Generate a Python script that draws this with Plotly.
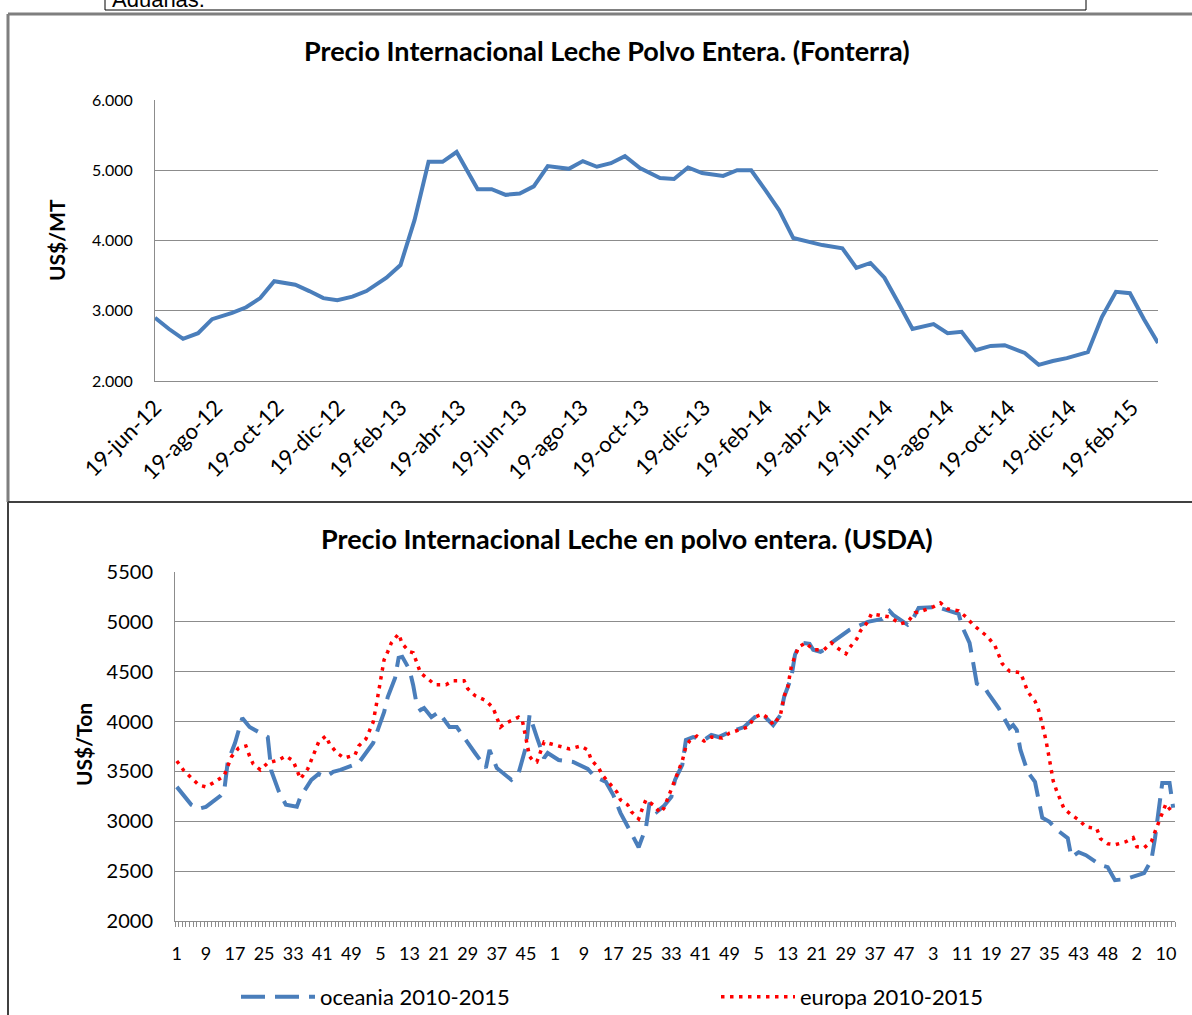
import plotly.graph_objects as go

W, H = 1192, 1015

# ---------------- Top chart data (Fonterra) ----------------
fonterra_dates = ["2012-06-19","2012-07-03","2012-07-17","2012-08-01","2012-08-15","2012-09-04","2012-09-18",
    "2012-10-02","2012-10-16","2012-11-06","2012-11-20","2012-12-04","2012-12-18",
    "2013-01-02","2013-01-16","2013-02-05","2013-02-19","2013-03-05","2013-03-19","2013-04-02","2013-04-16",
    "2013-05-07","2013-05-21","2013-06-04","2013-06-18","2013-07-02","2013-07-16","2013-08-06","2013-08-20",
    "2013-09-03","2013-09-17","2013-10-01","2013-10-16","2013-11-05","2013-11-19","2013-12-03","2013-12-17",
    "2014-01-07","2014-01-21","2014-02-04","2014-02-18","2014-03-04","2014-03-18","2014-04-01","2014-04-16",
    "2014-05-06","2014-05-20","2014-06-03","2014-06-17","2014-07-01","2014-07-15","2014-08-05","2014-08-19",
    "2014-09-02","2014-09-16","2014-10-01","2014-10-15","2014-11-04","2014-11-18","2014-12-02","2014-12-16",
    "2015-01-06","2015-01-20","2015-02-03","2015-02-17","2015-03-03","2015-03-17"]
fonterra_values = [2900,2740,2600,2680,2880,2970,3050,3180,3420,3370,3280,3180,3150,3200,3280,3470,3650,4290,
    5120,5120,5260,4730,4730,4650,4670,4770,5060,5020,5130,5050,5100,5200,5030,4890,4875,5040,4960,4920,5000,
    5000,4720,4430,4035,3980,3935,3890,3610,3680,3470,3110,2740,2810,2680,2700,2440,2500,2510,2400,2230,2285,
    2325,2410,2910,3270,3250,2880,2540]
top_tick_dates = ["2012-06-19","2012-08-19","2012-10-19","2012-12-19","2013-02-19","2013-04-19","2013-06-19",
    "2013-08-19","2013-10-19","2013-12-19","2014-02-19","2014-04-19","2014-06-19","2014-08-19","2014-10-19",
    "2014-12-19","2015-02-19"]
top_tick_labels = ["19-jun-12","19-ago-12","19-oct-12","19-dic-12","19-feb-13","19-abr-13","19-jun-13",
    "19-ago-13","19-oct-13","19-dic-13","19-feb-14","19-abr-14","19-jun-14","19-ago-14","19-oct-14",
    "19-dic-14","19-feb-15"]

# ---------------- Bottom chart data (USDA) ----------------
week_labels = ["1","9","17","25","33","41","49","5","13","21","29","37","45","1","9","17","25","33","41","49",
    "5","13","21","29","37","47","3","11","19","27","35","43","48","2","10"]
week_label_pos = list(range(0, 8 * len(week_labels), 8))
n_weeks = 275

oceania_idx = [0,4,6,8,12,13,14,16,18,20,25,26,28,30,33,34,37,39,41,43,45,50,54,55,57,58,60,61,62,64,
    65,66,67,68,70,72,75,77,79,82,85,86,88,92,94,96,97,98,99,101,102,105,109,113,115,118,120,122,127,129,
    130,132,134,136,137,139,140,142,145,147,149,152,156,159,161,164,166,167,169,170,171,172,174,175,177,178,
    180,185,190,194,196,197,201,202,204,209,213,215,216,218,219,220,222,223,226,229,230,231,232,234,236,237,
    238,240,242,245,246,248,250,254,256,258,261,266,268,269,270,271,273,274]
oceania_val = [3345,3165,3125,3145,3255,3295,3595,3785,4035,3945,3845,3505,3305,3165,3145,3245,3415,3475,
    3445,3495,3515,3585,3785,3895,4095,4245,4435,4640,4650,4520,4365,4165,4115,4135,4045,4095,3945,3945,3835,
    3685,3535,3715,3535,3415,3485,3745,4065,3945,3845,3635,3685,3615,3595,3525,3445,3395,3265,3085,2740,2935,
    3185,3095,3155,3245,3415,3565,3815,3845,3815,3865,3845,3895,3945,4045,4075,3965,4065,4245,4445,4670,4750,
    4790,4780,4720,4700,4720,4790,4920,5000,5030,5110,5070,4970,5000,5140,5150,5110,5080,4950,4790,4590,4380,
    4350,4290,4135,3935,3965,3915,3715,3495,3395,3195,3035,2995,2915,2830,2640,2690,2660,2560,2540,2410,2420,
    2480,2610,2830,3145,3385,3385,3135]

europa_idx = [0,2,4,6,8,10,13,14,15,17,19,20,21,23,25,28,30,32,33,34,36,37,38,39,41,42,44,46,49,50,52,53,
    54,55,56,57,58,59,61,62,64,65,66,67,69,71,74,76,79,80,82,85,87,88,89,90,92,94,95,96,97,98,99,100,101,103,
    106,108,111,113,114,116,117,119,121,122,124,125,127,128,129,131,133,134,135,136,137,138,139,140,141,143,
    145,147,150,152,155,157,159,161,163,164,166,167,168,169,170,171,173,175,178,180,182,184,185,187,188,190,
    191,194,196,199,201,203,205,208,210,212,215,217,219,221,223,225,226,227,229,232,233,234,236,237,238,239,
    240,241,242,243,244,246,248,250,253,254,256,258,261,263,264,266,268,269,270,271,272,274]
europa_val = [3605,3505,3435,3365,3345,3385,3455,3545,3645,3735,3755,3655,3575,3515,3585,3615,3655,3605,3505,
    3425,3525,3615,3705,3795,3855,3775,3685,3635,3665,3755,3825,3905,3995,4195,4415,4620,4700,4790,4880,4780,
    4700,4690,4590,4490,4430,4370,4370,4410,4410,4330,4260,4210,4135,4045,3945,3975,4015,4045,4015,3850,3650,
    3605,3595,3695,3795,3775,3745,3725,3755,3715,3615,3535,3465,3385,3295,3215,3165,3095,3025,3125,3215,3165,
    3085,3135,3225,3325,3415,3505,3605,3750,3805,3855,3805,3845,3835,3885,3925,3945,4045,4075,4025,3965,4065,
    4255,4345,4555,4655,4750,4790,4720,4720,4790,4730,4680,4740,4830,4910,5000,5080,5060,5050,4980,5000,5090,
    5110,5150,5190,5130,5110,5050,4970,4910,4850,4760,4670,4580,4505,4490,4400,4300,4205,4115,3970,3815,3615,
    3405,3300,3205,3125,3065,3015,2945,2925,2825,2775,2765,2795,2835,2745,2735,2795,2895,2995,3085,3175,3075]

FONT = "Lato"
BLUE = "#4A7EBB"
GRID = "#8C8C8C"

def px_x(p):
    return p / W

def px_y(p):
    return 1 - p / H

fig = go.Figure()

fig.add_trace(go.Scatter(x=fonterra_dates, y=fonterra_values, mode="lines",
                         line=dict(color=BLUE, width=4), showlegend=False,
                         xaxis="x", yaxis="y"))
fig.add_trace(go.Scatter(x=oceania_idx, y=oceania_val, mode="lines", name="oceania 2010-2015",
                         line=dict(color=BLUE, width=4, dash="24px,10px"),
                         xaxis="x2", yaxis="y2"))
fig.add_trace(go.Scatter(x=europa_idx, y=europa_val, mode="lines", name="europa 2010-2015",
                         line=dict(color="#FF0000", width=3.5, dash="3.5px,5.5px"),
                         xaxis="x2", yaxis="y2"))

fig.update_layout(
    width=W, height=H,
    margin=dict(l=0, r=0, t=0, b=0, autoexpand=False),
    paper_bgcolor="white", plot_bgcolor="white",
    separators=",.",
    font=dict(family=FONT, size=16, color="black"),
    xaxis=dict(domain=[px_x(155), px_x(1158)], anchor="y", type="date", automargin=False,
               range=["2012-06-19", "2015-03-17"],
               tickmode="array", tickvals=top_tick_dates, ticktext=top_tick_labels,
               tickangle=-45, showgrid=False, showline=True, linecolor=GRID, linewidth=1,
               ticks="", tickfont=dict(family=FONT, size=22), ticklabelstandoff=4,
               zeroline=False),
    yaxis=dict(domain=[px_y(381), px_y(100)], anchor="x", range=[2000, 6000], automargin=False,
               tickmode="linear", tick0=2000, dtick=1000, tickformat=",.0f",
               showgrid=True, gridcolor=GRID, gridwidth=1, showline=True, linecolor=GRID,
               ticks="", tickfont=dict(family=FONT, size=16), ticklabelstandoff=18,
               zeroline=False),
    xaxis2=dict(domain=[px_x(175), px_x(1175)], anchor="y2", type="linear", automargin=False,
                range=[-0.5, n_weeks - 0.5],
                tickmode="array", tickvals=week_label_pos, ticktext=week_labels,
                showgrid=False, showline=True, linecolor=GRID, linewidth=1,
                ticks="", tickfont=dict(family=FONT, size=18), ticklabelstandoff=16,
                minor=dict(tickmode="linear", tick0=-0.5, dtick=1, ticks="outside",
                           ticklen=5, tickcolor=GRID, showgrid=False),
                zeroline=False),
    yaxis2=dict(domain=[px_y(921), px_y(572)], anchor="x2", range=[2000, 5500], automargin=False,
                tickmode="linear", tick0=2000, dtick=500, tickformat="d",
                showgrid=True, gridcolor=GRID, gridwidth=1, showline=True, linecolor=GRID,
                ticks="", tickfont=dict(family=FONT, size=20), ticklabelstandoff=17,
                zeroline=False),
    legend=dict(orientation="h", x=px_x(236), y=px_y(997), xanchor="left", yanchor="middle",
                font=dict(family=FONT, size=22), entrywidth=391, entrywidthmode="pixels",
                itemwidth=74, bgcolor="rgba(0,0,0,0)", traceorder="normal"),
)

annotations = [
    dict(text="<b>Precio Internacional Leche Polvo Entera. (Fonterra)</b>", x=px_x(607), y=px_y(50),
         xref="paper", yref="paper", showarrow=False, font=dict(family=FONT, size=27),
         xanchor="center", yanchor="middle"),
    dict(text="<b>Precio Internacional Leche en polvo entera. (USDA)</b>", x=px_x(627), y=px_y(538),
         xref="paper", yref="paper", showarrow=False, font=dict(family=FONT, size=27),
         xanchor="center", yanchor="middle"),
    dict(text="<b>US$/MT</b>", x=px_x(57), y=px_y(240), xref="paper", yref="paper", showarrow=False,
         textangle=-90, font=dict(family=FONT, size=21), xanchor="center", yanchor="middle"),
    dict(text="<b>US$/Ton</b>", x=px_x(83), y=px_y(745), xref="paper", yref="paper", showarrow=False,
         textangle=-90, font=dict(family=FONT, size=21), xanchor="center", yanchor="middle"),
    dict(text="Aduanas.", x=px_x(110), y=px_y(14), xref="paper", yref="paper", showarrow=False,
         font=dict(family="Liberation Sans", size=22), xanchor="left", yanchor="bottom"),
]
fig.update_layout(annotations=annotations)

def seg(x0, y0, x1, y1, color, width):
    return dict(type="line", xref="paper", yref="paper",
                x0=px_x(x0), x1=px_x(x1), y0=px_y(y0), y1=px_y(y1),
                line=dict(color=color, width=width))

shapes = [
    # document text box at top
    seg(105, 10, 1086, 10, "black", 1),
    seg(105, 0, 105, 10, "black", 1),
    seg(1086, 0, 1086, 10, "black", 1),
    # top chart frame
    seg(8, 14, 1192, 14, "#7F7F7F", 3),
    seg(8, 14, 8, 502, "#7F7F7F", 3),
    # separator between charts
    seg(8, 502, 1192, 502, "#404040", 2),
    # bottom chart left frame
    seg(8, 502, 8, 1015, "#404040", 2),
]
fig.update_layout(shapes=shapes)

fig.write_html("out.html", config={"displayModeBar": False},
               post_script="document.body.style.margin='0px';document.body.style.overflow='hidden';")
